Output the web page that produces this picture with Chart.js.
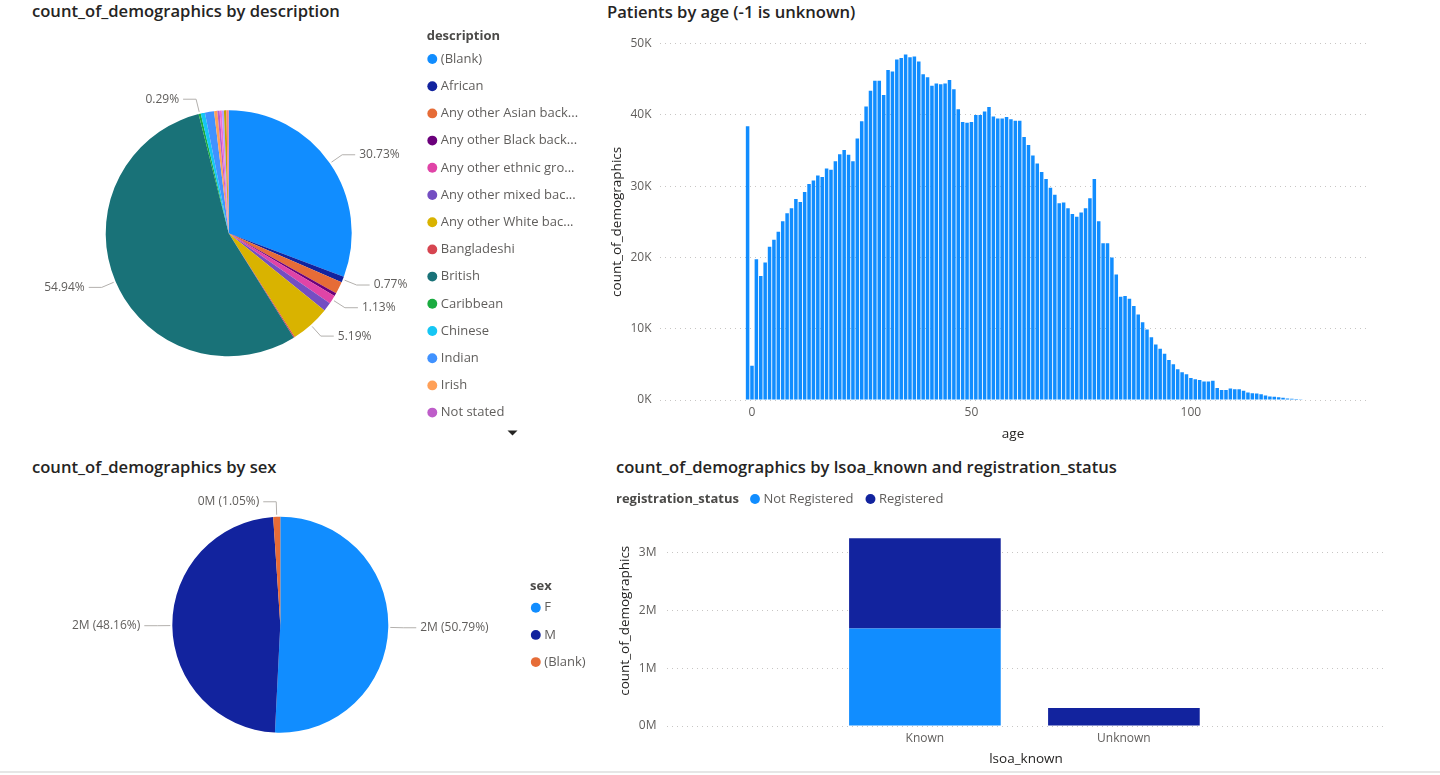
<!DOCTYPE html>
<html>
<head>
<meta charset="utf-8">
<title>demographics</title>
<script src="https://cdn.jsdelivr.net/npm/chart.js@4.4.1/dist/chart.umd.min.js"></script>
<style>
  html, body { margin: 0; padding: 0; background: #fff; }
  #page { position: relative; width: 1440px; height: 775px; overflow: hidden; font-family: "Open Sans", sans-serif; }
  .title { position: absolute; font-size: 16.6px; font-weight: 600; color: #252423; line-height: 24px; white-space: nowrap; }
  canvas { position: absolute; }
  #rule { position: absolute; left: 0; top: 771px; width: 1440px; height: 2px; background: #E6E6E6; }
</style>
</head>
<body>
<div id="page">
  <div class="title" style="left:32px;top:-1px">count_of_demographics by description</div>
  <div class="title" style="left:607px;top:0px">Patients by age (-1 is unknown)</div>
  <div class="title" style="left:32px;top:455px">count_of_demographics by sex</div>
  <div class="title" style="left:616px;top:455px">count_of_demographics by lsoa_known and registration_status</div>

  <canvas id="descChart" width="600" height="450" style="left:0px;top:0px"></canvas>
  <canvas id="ageChart" width="780" height="420" style="left:600px;top:28px"></canvas>
  <canvas id="sexChart" width="600" height="320" style="left:0px;top:450px"></canvas>
  <canvas id="lsoaChart" width="800" height="294" style="left:600px;top:476px"></canvas>
  <div id="rule"></div>
</div>
<script>
// ---------------- data ----------------

// description pie (share of patients, %)
const ethnicLabels = ["(Blank)", "African", "Any other Asian background", "Any other Black background",
  "Any other ethnic group", "Any other mixed background", "Any other White background", "Bangladeshi",
  "British", "Caribbean", "Chinese", "Indian", "Irish", "Not stated", "Pakistani", "White and Asian",
  "White and Black African", "White and Black Caribbean"];
const ethnicShare = [30.73, 0.77, 1.6, 0.4, 1.13, 1.15, 5.19, 0.15, 54.94, 0.29, 0.55, 1.2, 0.42, 0.3, 0.28, 0.28, 0.32, 0.3];
const ethnicColors = ["#118DFF", "#12239E", "#E66C37", "#6B007B", "#E044A7", "#744EC2", "#D9B300", "#D64550",
  "#197278", "#1AAB40", "#15C6F4", "#4092FF", "#FFA058", "#BE5DC9", "#F472D0", "#B5A1FF", "#C4A200", "#FF8080"];
const ethnicCallouts = [0, 1, 4, 6, 8, 9];

// patients by age
const ages = [-1, 0, 1, 2, 3, 4, 5, 6, 7, 8, 9, 10, 11, 12, 13, 14, 15, 16, 17, 18, 19, 20, 21, 22, 23, 24,
  25, 26, 27, 28, 29, 30, 31, 32, 33, 34, 35, 36, 37, 38, 39, 40, 41, 42, 43, 44, 45, 46, 47, 48, 49, 50,
  51, 52, 53, 54, 55, 56, 57, 58, 59, 60, 61, 62, 63, 64, 65, 66, 67, 68, 69, 70, 71, 72, 73, 74, 75, 76,
  77, 78, 79, 80, 81, 82, 83, 84, 85, 86, 87, 88, 89, 90, 91, 92, 93, 94, 95, 96, 97, 98, 99, 100, 101, 102,
  103, 104, 105, 106, 107, 108, 109, 110, 111, 112, 113, 114, 115, 116, 117, 118, 119, 120, 121, 122, 123,
  124, 125];
const ageCounts = [
  38400, 4800, 19750, 17400, 19300, 21500, 22500, 23600, 25100, 26200,
  26900, 28200, 27800, 29200, 30300, 30800, 31500, 31300, 32500, 32300,
  33500, 34500, 35100, 34400, 33500, 36700, 39100, 41200, 43400, 44800,
  44800, 42800, 46300, 46100, 47800, 48000, 48500, 48100, 48200, 47500,
  45700, 45300, 44100, 44400, 44300, 44400, 44900, 43600, 40800, 39000,
  38900, 39000, 40000, 40000, 40500, 41100, 39800, 39500, 39500, 39700,
  39400, 39200, 39200, 36900, 35800, 34300, 33200, 32000, 31000, 29800,
  28800, 27600, 27700, 26900, 26100, 25700, 26300, 26900, 28300, 31000,
  25100, 22000, 22000, 20000, 17600, 14500, 14600, 14200, 13200, 12000,
  10900, 9900, 8800, 7800, 7200, 6500, 5600, 5000, 4300, 3900,
  3600, 3100, 2900, 2800, 2600, 2600, 2700, 1700, 1400, 1400,
  1600, 1500, 1500, 1300, 1050, 960, 900, 800, 640, 500,
  460, 370, 300, 220, 160, 140, 120];
const ageTicks = [0, 50, 100];
const countTicks = [0, 10000, 20000, 30000, 40000, 50000];

// sex pie
const sexLabels = ["F", "M", "(Blank)"];
const sexCounts = [1808124, 1714496, 37380];
const sexColors = ["#118DFF", "#12239E", "#E66C37"];

// lsoa_known x registration_status
const lsoaLabels = ["Known", "Unknown"];
const notRegistered = [1690000, 0];
const registered = [1560000, 310000];
const lsoaTicks = [0, 1000000, 2000000, 3000000];

// ---------------- shared bits ----------------

const FONT = "Open Sans";
const GREY = "#605E5C";
const DARK = "#252423";
Chart.defaults.font.family = '"Open Sans", sans-serif';
Chart.defaults.color = GREY;

// moves the legend / pie centre after layout, draws the legend heading
const placer = {
  id: "placer",
  afterLayout(chart, args, opts) {
    const lg = chart.legend;
    if (lg && opts.legendLeft !== undefined) {
      const dx = opts.legendLeft - lg.left;
      lg.left += dx; lg.right += dx;
    }
    if (lg && opts.legendTop !== undefined) {
      const dy = opts.legendTop - lg.top;
      lg.top += dy; lg.bottom += dy;
    }
    if (opts.center) {
      const a = chart.chartArea;
      const w = a.right - a.left, h = a.bottom - a.top;
      a.left = opts.center[0] - w / 2; a.right = a.left + w;
      a.top = opts.center[1] - h / 2; a.bottom = a.top + h;
    }
  },
  afterDraw(chart, args, opts) {
    const ctx = chart.ctx;
    ctx.save();
    if (opts.heading) {
      ctx.font = 'bold 13px "' + FONT + '"';
      ctx.fillStyle = "#4B4A48";
      ctx.textAlign = "left";
      ctx.textBaseline = "middle";
      ctx.fillText(opts.heading.text, opts.heading.x, opts.heading.y);
    }
    if (opts.arrow) {
      // legend scroll arrow
      const [x, y] = opts.arrow;
      ctx.fillStyle = DARK;
      ctx.beginPath();
      ctx.moveTo(x - 5, y - 2.5);
      ctx.lineTo(x + 5, y - 2.5);
      ctx.lineTo(x, y + 2.5);
      ctx.closePath();
      ctx.fill();
    }
    ctx.restore();
  }
};

// outside labels with leader lines
function callouts(indices, fmt) {
  return {
    id: "callouts",
    afterDatasetsDraw(chart) {
      const ctx = chart.ctx;
      const meta = chart.getDatasetMeta(0);
      const values = chart.data.datasets[0].data;
      const total = values.reduce((a, b) => a + b, 0);
      ctx.save();
      ctx.font = '12px "' + FONT + '"';
      ctx.textBaseline = "middle";
      ctx.strokeStyle = "#B3B0AD";
      ctx.lineWidth = 1;
      ctx.fillStyle = GREY;
      indices.forEach(i => {
        const arc = meta.data[i];
        const mid = (arc.startAngle + arc.endAngle) / 2;
        const r = arc.outerRadius;
        const c = Math.cos(mid), s = Math.sin(mid);
        const x0 = arc.x + c * (r + 2), y0 = arc.y + s * (r + 2);
        const x1 = arc.x + c * (r + 15), y1 = arc.y + s * (r + 15);
        const dir = c >= 0 ? 1 : -1;
        const x2 = x1 + dir * 13;
        ctx.beginPath();
        ctx.moveTo(x0, y0); ctx.lineTo(x1, y1); ctx.lineTo(x2, y1);
        ctx.stroke();
        ctx.textAlign = dir > 0 ? "left" : "right";
        ctx.fillText(fmt(values[i], values[i] / total * 100), x2 + dir * 4, y1);
      });
      ctx.restore();
    }
  };
}

// legend entries, long names cut with "..."
function pieLegendItems(maxW) {
  return function (chart) {
    const ds = chart.data.datasets[0];
    const ctx = chart.ctx;
    ctx.save();
    ctx.font = '13px "' + FONT + '"';
    const items = chart.data.labels.map((label, i) => {
      let text = label;
      if (ctx.measureText(text).width > maxW) {
        while (text.length > 1 && ctx.measureText(text + "...").width > maxW) text = text.slice(0, -1);
        text = text + "...";
      }
      return { text, fillStyle: ds.backgroundColor[i], strokeStyle: ds.backgroundColor[i], lineWidth: 0,
        pointStyle: "circle", hidden: false, index: i, fontColor: GREY };
    });
    ctx.restore();
    return items;
  };
}

const pieLegendLabels = {
  usePointStyle: true, boxWidth: 4, boxHeight: 7, padding: 14.2, color: GREY,
  font: { family: FONT, size: 13 }
};

// ---------------- description pie ----------------

new Chart(document.getElementById("descChart"), {
  type: "pie",
  data: {
    labels: ethnicLabels,
    datasets: [{ data: ethnicShare, backgroundColor: ethnicColors, borderWidth: 0, radius: 123, clip: false }]
  },
  options: {
    responsive: false,
    animation: false,
    plugins: {
      legend: {
        position: "right", align: "start",
        labels: Object.assign({}, pieLegendLabels, {
          generateLabels: pieLegendItems(138),
          filter: item => item.index < 14
        })
      },
      tooltip: { enabled: false },
      placer: {
        legendLeft: 416.1, legendTop: 38.3, center: [228.7, 233.3],
        heading: { text: "description", x: 426.7, y: 36.7 },
        arrow: [512.5, 433]
      }
    }
  },
  plugins: [placer, callouts(ethnicCallouts, (v, p) => p.toFixed(2) + "%")]
});

// ---------------- age histogram ----------------

new Chart(document.getElementById("ageChart"), {
  type: "bar",
  data: {
    datasets: [{
      data: ages.map((a, i) => ({ x: a, y: ageCounts[i] })),
      backgroundColor: "#118DFF",
      barPercentage: 0.8,
      categoryPercentage: 1
    }]
  },
  options: {
    responsive: false,
    animation: false,
    layout: { padding: { left: 7, top: 7.7, right: 14, bottom: 5.9 } },
    plugins: { legend: { display: false }, tooltip: { enabled: false } },
    scales: {
      x: {
        type: "linear", min: -20.96, max: 139.9, offset: false,
        afterBuildTicks: s => { s.ticks = ageTicks.map(v => ({ value: v })); },
        afterFit: s => { s.height = 42.1; },
        grid: { display: false, drawTicks: false },
        border: { display: false },
        ticks: { padding: 5.8, color: GREY, font: { size: 12 } },
        title: { display: true, text: "age", color: DARK, font: { size: 13.5 }, padding: { top: 0, bottom: 0 } }
      },
      y: {
        min: 0, max: 50000,
        afterBuildTicks: s => { s.ticks = countTicks.map(v => ({ value: v })); },
        afterFit: s => { s.width = 53; },
        grid: { color: "#C8C6C4", drawTicks: false },
        border: { display: false, dash: [1, 4] },
        ticks: { padding: 8.5, color: GREY, font: { size: 12 }, callback: v => (v / 1000) + "K" },
        title: { display: true, text: "count_of_demographics", color: DARK, font: { size: 13.5 }, padding: { top: 1.9, bottom: 0 } }
      }
    }
  }
});

// ---------------- sex pie ----------------

new Chart(document.getElementById("sexChart"), {
  type: "pie",
  data: {
    labels: sexLabels,
    datasets: [{ data: sexCounts, backgroundColor: sexColors, borderWidth: 0, radius: 108, clip: false }]
  },
  options: {
    responsive: false,
    animation: false,
    plugins: {
      legend: {
        position: "right", align: "start",
        labels: Object.assign({}, pieLegendLabels, { generateLabels: pieLegendItems(138) })
      },
      tooltip: { enabled: false },
      placer: {
        legendLeft: 519.6, legendTop: 137, center: [280.3, 174.7],
        heading: { text: "sex", x: 530, y: 136 }
      }
    }
  },
  plugins: [placer, callouts([0, 1, 2], (v, p) => Math.round(v / 1e6) + "M (" + p.toFixed(2) + "%)")]
});

// ---------------- lsoa_known x registration_status ----------------

new Chart(document.getElementById("lsoaChart"), {
  type: "bar",
  data: {
    datasets: [
      { label: "Not Registered", data: lsoaLabels.map((l, i) => ({ x: i, y: notRegistered[i] })),
        backgroundColor: "#118DFF", barPercentage: 0.762, categoryPercentage: 1 },
      { label: "Registered", data: lsoaLabels.map((l, i) => ({ x: i, y: registered[i] })),
        backgroundColor: "#12239E", barPercentage: 0.762, categoryPercentage: 1 }
    ]
  },
  options: {
    responsive: false,
    animation: false,
    layout: { padding: { left: 0, top: 1.5, right: 15, bottom: 0 } },
    plugins: {
      legend: {
        position: "top", align: "start",
        labels: { usePointStyle: true, boxWidth: 4, boxHeight: 7, padding: 15, color: GREY, font: { family: FONT, size: 13 } }
      },
      tooltip: { enabled: false },
      placer: { legendLeft: 138, heading: { text: "registration_status", x: 16, y: 23 } }
    },
    scales: {
      x: {
        type: "linear", stacked: true, min: -1.296, max: 2.312, offset: false,
        afterBuildTicks: s => { s.ticks = lsoaLabels.map((l, i) => ({ value: i })); },
        afterFit: s => { s.height = 44; },
        grid: { display: false, drawTicks: false },
        border: { display: false },
        ticks: { padding: 5.1, color: GREY, font: { size: 12 }, callback: v => lsoaLabels[v] },
        title: { display: true, text: "lsoa_known", color: DARK, font: { size: 13.5 }, padding: { top: 0, bottom: 2.9 } }
      },
      y: {
        stacked: true, min: 0, max: 3644000,
        afterBuildTicks: s => { s.ticks = lsoaTicks.map(v => ({ value: v })); },
        afterFit: s => { s.width = 67; },
        grid: { color: "#C8C6C4", drawTicks: false },
        border: { display: false, dash: [1, 4] },
        ticks: { padding: 10.5, color: GREY, font: { size: 12 }, callback: v => (v / 1e6) + "M" },
        title: { display: true, text: "count_of_demographics", color: DARK, font: { size: 13.5 }, padding: { top: 16.9, bottom: 0 } }
      }
    }
  },
  plugins: [placer]
});
</script>
</body>
</html>
